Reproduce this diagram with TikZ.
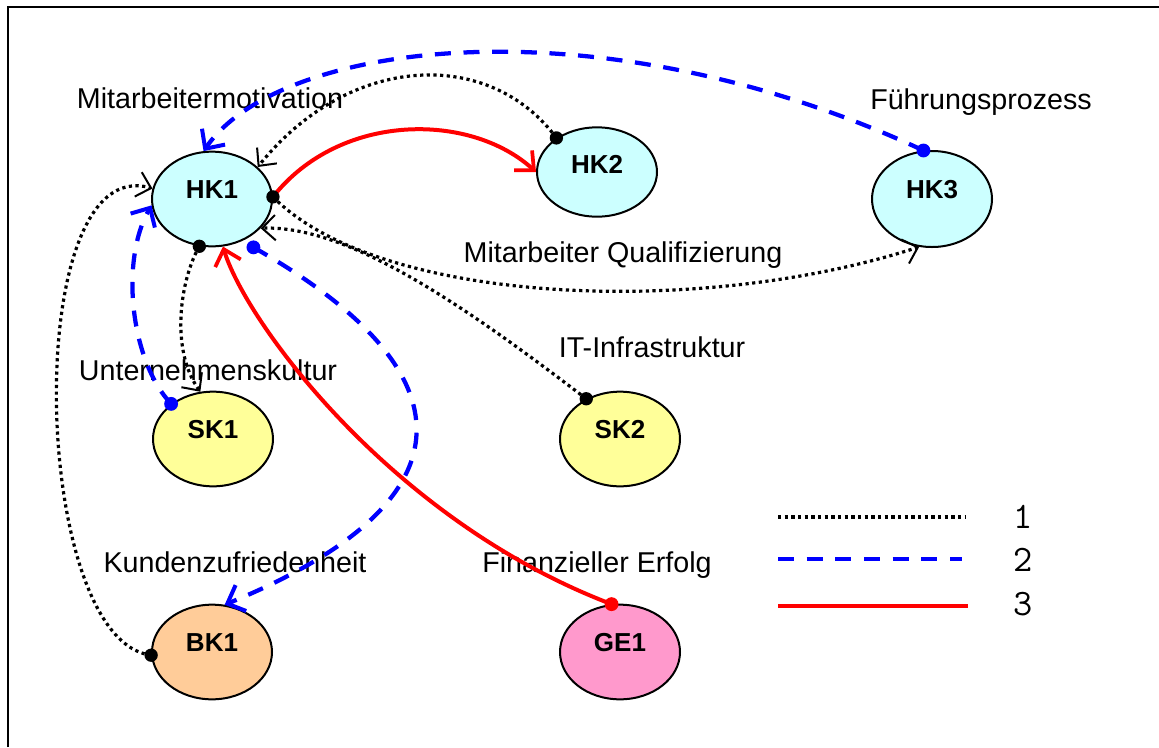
\documentclass[tikz,border=0pt]{standalone}
\usepackage{fontspec}
\setmainfont{Liberation Sans}
\usetikzlibrary{arrows.meta,shapes.geometric,calc}
\definecolor{hkc}{HTML}{CCFFFF}
\definecolor{skc}{HTML}{FFFF99}
\definecolor{bkc}{HTML}{FFCC99}
\definecolor{gec}{HTML}{FF99CC}
\begin{document}
\begin{tikzpicture}[x=0.75pt,y=-0.75pt,
  ell/.style={ellipse,draw=black,line width=1.5pt,minimum width=90pt,minimum height=71pt,inner sep=0pt},
  nm/.style={font=\bfseries\fontsize{19.5pt}{22pt}\selectfont,inner sep=0pt},
  lbl/.style={font=\fontsize{21.5pt}{25pt}\selectfont,anchor=base,inner sep=0pt},
  legnum/.style={font=\ttfamily\fontsize{28pt}{30pt}\selectfont,inner sep=0pt},
  rel1/.style={black,line width=2.4pt,dash pattern=on 2.4pt off 2.6pt},
  rel2/.style={blue,line width=3.2pt,dash pattern=on 12pt off 9.5pt},
  rel3/.style={red,line width=3pt},
  tip1/.style={-{Straight Barb[length=10pt,width=19pt,line width=1.5pt]}},
  tip2/.style={-{Straight Barb[length=11pt,width=21pt,line width=3pt]}},
  tip3/.style={-{Straight Barb[length=11pt,width=20pt,line width=2.8pt]}}
]
\useasboundingbox (0,0) rectangle (1159,747);
\draw[line width=1.5pt] (8,747) -- (8,6.5) -- (1159,6.5);

% nodes
\node[ell,fill=hkc] (HK1) at (212,199) {};
\node[ell,fill=hkc,minimum height=67pt] (HK2) at (597,172) {};
\node[ell,fill=hkc,minimum height=72pt] (HK3) at (932,199) {};
\node[ell,fill=skc] (SK1) at (213,439) {};
\node[ell,fill=skc] (SK2) at (620,439) {};
\node[ell,fill=bkc] (BK1) at (212,652) {};
\node[ell,fill=gec] (GE1) at (620,652) {};

\node[nm] (HK1t) at ([yshift=7pt]HK1.center) {HK1};
\node[nm] (HK2t) at ([yshift=6pt]HK2.center) {HK2};
\node[nm] (HK3t) at ([yshift=7pt]HK3.center) {HK3};
\node[nm] (SK1t) at ([yshift=7pt]SK1.center) {SK1};
\node[nm] (SK2t) at ([yshift=7pt]SK2.center) {SK2};
\node[nm] (BK1t) at ([yshift=7pt]BK1.center) {BK1};
\node[nm] (GE1t) at ([yshift=7pt]GE1.center) {GE1};

% labels
\node[lbl] (l1) at (210,108) {Mitarbeitermotivation};
\node[lbl] (l2) at (981,109) {Führungsprozess};
\node[lbl] (l3) at (623,262) {Mitarbeiter Qualifizierung};
\node[lbl] (l4) at (652,357) {IT-Infrastruktur};
\node[lbl] (l5) at (208,380) {Unternehmenskultur};
\node[lbl] (l6) at (235,572) {Kundenzufriedenheit};
\node[lbl] (l7) at (597,572) {Finanzieller Erfolg};

\coordinate (b2s) at ([shift={(6,9)}]HK1.-48);

% connectors
\draw[rel2,tip2] (HK3.100) .. controls (600,0) and (280,40) .. (HK1.100);
\draw[rel1,tip1] (HK2.140) .. controls (490,48) and (350,52) .. (HK1.35);
\draw[rel3,tip3] (HK1.2) .. controls (340,112) and (470,112) .. (HK2.180);
\draw[rel1,tip1] (HK1.2) .. controls (380,305) and (700,318) .. (HK3.255);
\draw[rel1,tip1] (SK2.130) .. controls (470,310) and (350,225) .. (HK1.-31);
\draw[rel1,tip1] (HK1.255) .. controls (180,280) and (170,350) .. (SK1.105);
\draw[rel2,tip2] (SK1.140) .. controls (130,360) and (120,260) .. (HK1.186);
\draw[rel1,tip1] (BK1.183) .. controls (30,640) and (20,150) .. (HK1.170);
\draw[rel2,tip2] (b2s) .. controls (470,370) and (480,500) .. (BK1.75);
\draw[rel3,tip3] (GE1.100) .. controls (390,520) and (245,320) .. (HK1.283);

% start dots
\fill[black] (HK2.140) circle (5pt);
\fill[black] (HK1.2) circle (5pt);
\fill[black] (HK1.255) circle (5pt);
\fill[black] (SK2.130) circle (5pt);
\fill[black] (BK1.183) circle (5pt);
\fill[blue] (HK3.100) circle (5.2pt);
\fill[blue] (SK1.140) circle (5.2pt);
\fill[blue] (b2s) circle (5.2pt);
\fill[red] (GE1.100) circle (5.2pt);

% legend
\draw[rel1] (778,517) -- (965,517);
\draw[rel2] (778,559) -- (962,559);
\draw[rel3] (778,606) -- (968,606);
\node[legnum] (n1) at (1023,517) {1};
\node[legnum] (n2) at (1023,560) {2};
\node[legnum] (n3) at (1023,604) {3};
\end{tikzpicture}
\end{document}
